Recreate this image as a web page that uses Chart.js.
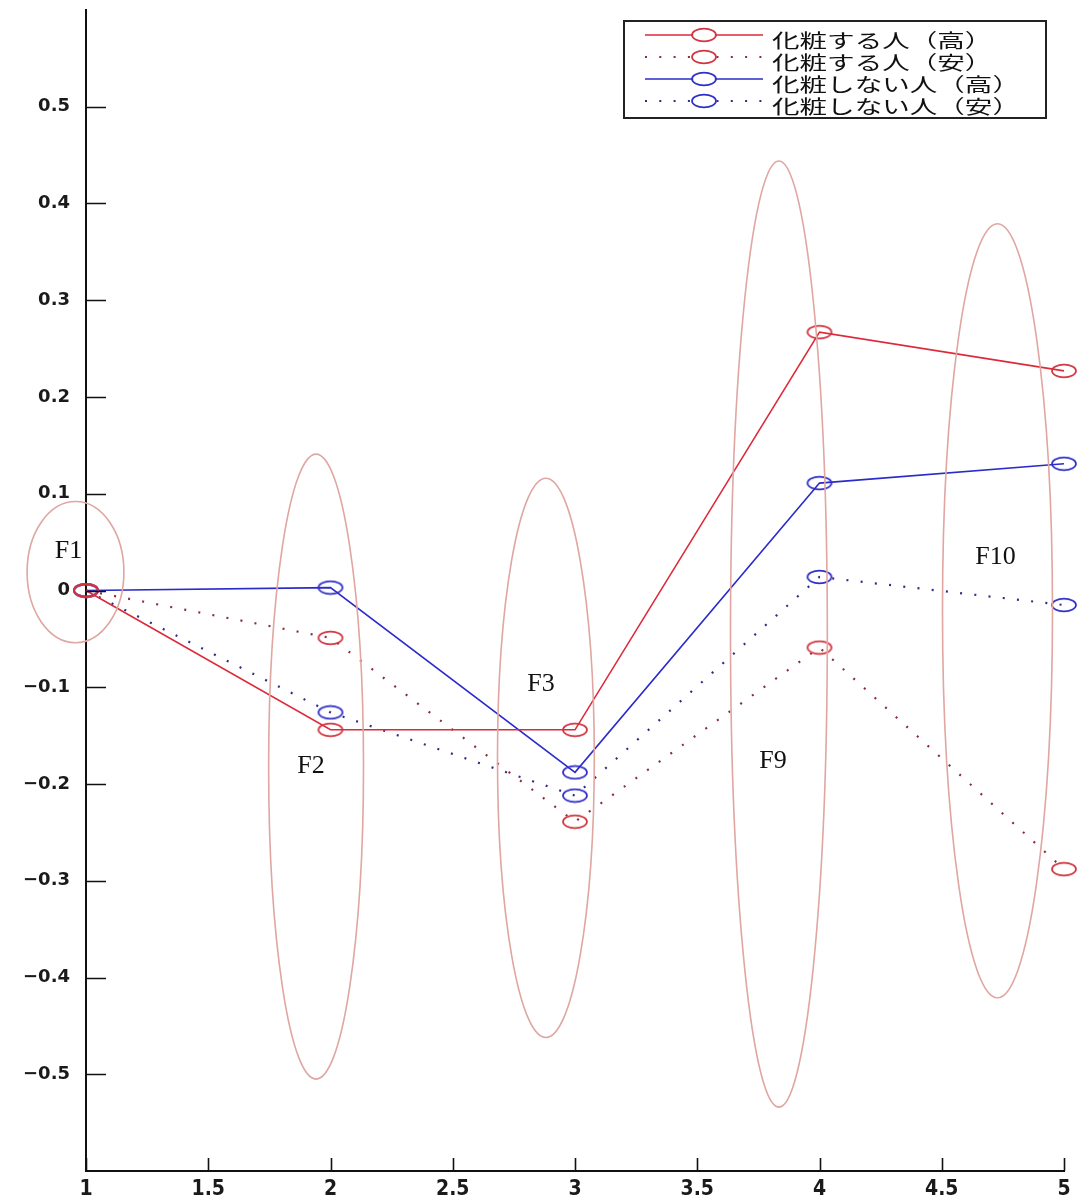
<!DOCTYPE html>
<html>
<head>
<meta charset="utf-8">
<script src="https://cdn.jsdelivr.net/npm/chart.js@4/dist/chart.umd.min.js"></script>
<style>
  html, body { margin: 0; padding: 0; background: #fff; overflow: hidden; }
  #wrap { position: relative; width: 1078px; height: 1201px; }
</style>
</head>
<body>
<div id="wrap"><canvas id="c"></canvas></div>
<script>
// Factor positions on the x axis
const xValues = [1, 2, 3, 4, 5];

// Series names (legend text)
const seriesNames = ['化粧する人（高）', '化粧する人（安）', '化粧しない人（高）', '化粧しない人（安）'];

// Series values
const makeupHigh   = [0, -0.144, -0.144, 0.267, 0.227];
const makeupLow    = [0, -0.049, -0.239, -0.059, -0.288];
const noMakeupHigh = [0, 0.003, -0.188, 0.111, 0.131];
const noMakeupLow  = [0, -0.126, -0.212, 0.014, -0.015];

// Tick values
const xTicks = [1, 1.5, 2, 2.5, 3, 3.5, 4, 4.5, 5];
const yTicks = [-0.5, -0.4, -0.3, -0.2, -0.1, 0, 0.1, 0.2, 0.3, 0.4, 0.5];

// Factor group names
const groupLabels = ['F1', 'F2', 'F3', 'F9', 'F10'];

// Group rings in axis units: centre, half-width, half-height, and label anchor
const groupRings = [
  { cx: 0.957, cy: 0.019,  rx: 0.198, ry: 0.073, tx: 0.928, ty: 0.041 },
  { cx: 1.941, cy: -0.182, rx: 0.194, ry: 0.323, tx: 1.920, ty: -0.182 },
  { cx: 2.881, cy: -0.173, rx: 0.198, ry: 0.289, tx: 2.861, ty: -0.097 },
  { cx: 3.834, cy: -0.045, rx: 0.198, ry: 0.489, tx: 3.810, ty: -0.176 },
  { cx: 4.728, cy: -0.021, rx: 0.225, ry: 0.400, tx: 4.720, ty: 0.034 }
];

const toPoints = vals => vals.map((v, i) => ({ x: xValues[i], y: v }));

// Open oval marker drawn on a small canvas, used as the point style
function ringMarker(color) {
  const c = document.createElement('canvas');
  c.width = 28; c.height = 16;
  const g = c.getContext('2d');
  g.strokeStyle = color;
  g.lineWidth = 1.7;
  g.beginPath();
  g.ellipse(14, 8, 12, 6.3, 0, 0, Math.PI * 2);
  g.stroke();
  return c;
}

const RED = '#dc2a3a', RED_MK = '#d2343f', RED_DOT = '#8a2e3e';
const BLUE = '#2b2bcc', BLUE_MK = '#2f2fc8', BLUE_DOT = '#2e2e86';

function series(label, values, lineColor, markerColor, dotted) {
  return {
    label: label,
    data: toPoints(values),
    borderColor: lineColor,
    borderWidth: dotted ? 2.2 : 1.6,
    borderDash: dotted ? [2, 12.3] : [],
    pointStyle: ringMarker(markerColor),
    pointRadius: 12,
    pointHoverRadius: 12,
    tension: 0,
    fill: false,
    clip: false
  };
}

function fmtY(v) {
  if (Math.abs(v) < 1e-9) return '0';
  return (v < 0 ? '\u2212' : '') + Math.abs(v).toFixed(1);
}

// Inward tick marks on both axes
const inwardTicks = {
  id: 'inwardTicks',
  afterDraw(chart) {
    const { ctx, chartArea, scales } = chart;
    ctx.save();
    ctx.strokeStyle = '#111';
    ctx.lineWidth = 1.6;
    ctx.beginPath();
    scales.y.ticks.forEach(t => {
      const py = Math.round(scales.y.getPixelForValue(t.value)) + 0.5;
      ctx.moveTo(chartArea.left, py);
      ctx.lineTo(chartArea.left + 20, py);
    });
    scales.x.ticks.forEach(t => {
      const px = Math.round(scales.x.getPixelForValue(t.value)) + 0.5;
      ctx.moveTo(px, chartArea.bottom);
      ctx.lineTo(px, chartArea.bottom - 13);
    });
    ctx.stroke();
    ctx.restore();
  }
};

// Rings around factor groups with their names
const groupRingsPlugin = {
  id: 'groupRings',
  afterDatasetsDraw(chart) {
    const { ctx, scales } = chart;
    const xs = scales.x, ys = scales.y;
    ctx.save();
    ctx.strokeStyle = '#dfa6a2';
    ctx.lineWidth = 1.6;
    groupRings.forEach(r => {
      const cx = xs.getPixelForValue(r.cx);
      const cy = ys.getPixelForValue(r.cy);
      const rx = Math.abs(xs.getPixelForValue(r.cx + r.rx) - cx);
      const ry = Math.abs(ys.getPixelForValue(r.cy + r.ry) - cy);
      ctx.beginPath();
      ctx.ellipse(cx, cy, rx, ry, 0, 0, Math.PI * 2);
      ctx.stroke();
    });
    ctx.fillStyle = '#111';
    ctx.font = '26px "Liberation Serif", "DejaVu Serif", serif';
    ctx.textAlign = 'center';
    ctx.textBaseline = 'middle';
    groupRings.forEach((r, i) => {
      ctx.fillText(groupLabels[i], xs.getPixelForValue(r.tx), ys.getPixelForValue(r.ty));
    });
    ctx.restore();
  }
};

// Boxed legend in the upper right with line samples and markers
const boxLegend = {
  id: 'boxLegend',
  afterDraw(chart) {
    const { ctx, chartArea } = chart;
    const right = chartArea.right - 18;
    const top = chartArea.top + 11;
    const width = 422, height = 97;
    const left = right - width;
    const rowGap = 22;
    const firstRow = top + 14;
    const lineX0 = left + 21, lineX1 = left + 139, textX = left + 148;
    ctx.save();
    ctx.fillStyle = '#fff';
    ctx.fillRect(left, top, width, height);
    ctx.strokeStyle = '#222';
    ctx.lineWidth = 2;
    ctx.strokeRect(left, top, width, height);
    chart.data.datasets.forEach((ds, i) => {
      const y = firstRow + i * rowGap;
      ctx.save();
      ctx.strokeStyle = ds.borderColor;
      ctx.lineWidth = ds.borderWidth;
      ctx.setLineDash(ds.borderDash || []);
      ctx.beginPath();
      ctx.moveTo(lineX0, y);
      ctx.lineTo(lineX1, y);
      ctx.stroke();
      ctx.restore();
      const mk = ds.pointStyle;
      const mx = (lineX0 + lineX1) / 2;
      ctx.fillStyle = '#fff';
      ctx.beginPath();
      ctx.ellipse(mx, y, 11, 5.5, 0, 0, Math.PI * 2);
      ctx.fill();
      ctx.drawImage(mk, mx - mk.width / 2, y - mk.height / 2);
      ctx.save();
      ctx.translate(textX, y + 6);
      ctx.scale(1.45, 1);
      ctx.fillStyle = '#111';
      ctx.font = '19px "Noto Sans CJK JP", sans-serif';
      ctx.textAlign = 'left';
      ctx.textBaseline = 'middle';
      ctx.fillText(ds.label, 0, 0);
      ctx.restore();
    });
    ctx.restore();
  }
};

new Chart(document.getElementById('c'), {
  type: 'line',
  data: {
    datasets: [
      series(seriesNames[0], makeupHigh, RED, RED_MK, false),
      series(seriesNames[1], makeupLow, RED_DOT, RED_MK, true),
      series(seriesNames[2], noMakeupHigh, BLUE, BLUE_MK, false),
      series(seriesNames[3], noMakeupLow, BLUE_DOT, BLUE_MK, true)
    ]
  },
  options: {
    responsive: true,
    maintainAspectRatio: false,
    animation: false,
    devicePixelRatio: 1,
    layout: { autoPadding: false, padding: { top: 10, right: 14, left: 0, bottom: 0 } },
    plugins: {
      legend: { display: false },
      tooltip: { enabled: false },
      title: { display: false }
    },
    scales: {
      x: {
        type: 'linear',
        min: 1, max: 5,
        afterBuildTicks: s => { s.ticks = xTicks.map(v => ({ value: v })); },
        afterFit: s => { s.height = 30; s.paddingLeft = 0; s.paddingRight = 0; },
        grid: { display: false, drawTicks: false },
        border: { display: true, color: '#111', width: 2 },
        ticks: {
          autoSkip: false, maxRotation: 0, padding: 8, color: '#1a1a1a',
          font: { family: '"DejaVu Sans Condensed", "DejaVu Sans", sans-serif', size: 21, weight: 'bold', lineHeight: 1 },
          callback: v => String(v)
        }
      },
      y: {
        type: 'linear',
        min: -0.6, max: 0.6,
        afterBuildTicks: s => { s.ticks = yTicks.map(v => ({ value: v })); },
        afterFit: s => { s.width = 86; s.paddingTop = 0; s.paddingBottom = 0; },
        grid: { display: false, drawTicks: false },
        border: { display: true, color: '#111', width: 2 },
        ticks: {
          padding: 16, color: '#1a1a1a',
          font: { family: '"DejaVu Sans", sans-serif', size: 18, weight: 'bold', lineHeight: 1 },
          callback: v => fmtY(v)
        }
      }
    }
  },
  plugins: [groupRingsPlugin, inwardTicks, boxLegend]
});
</script>
</body>
</html>
